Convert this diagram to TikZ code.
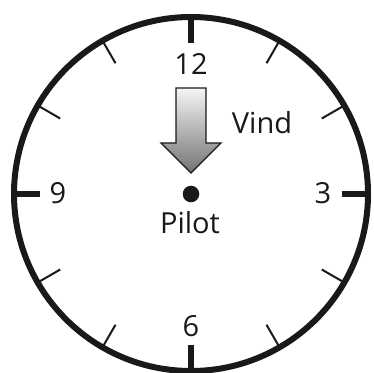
\documentclass[tikz,border=0pt]{standalone}
\usepackage{fontspec}
\setmainfont{Open Sans}
\usetikzlibrary{calc}
\begin{document}
\begin{tikzpicture}[x=1pt,y=-1pt,
  rim/.style={line width=6pt,draw=black!90},
  major/.style={line width=6.5pt,draw=black!90},
  minor/.style={line width=2pt,draw=black!90},
  num/.style={font=\fontsize{29}{29}\selectfont,anchor=base,inner sep=0pt,text=black!90},
  windarrow/.style={draw=black!90,line width=1.4pt,top color=black!4,bottom color=black!55,line join=miter}]
\useasboundingbox (0,0) rectangle (374,372);
\clip (0,0) rectangle (374,372);
\coordinate (c) at (191,194);
\draw[rim] (c) circle[radius=177];
\foreach \a in {0,90,180,270}
  \draw[major] ($(c)+(\a:151)$) -- ($(c)+(\a:178)$);
\foreach \a in {30,60,120,150,210,240,300,330}
  \draw[minor] ($(c)+(\a:151)$) -- ($(c)+(\a:178)$);
\node[num] (n12) at (191,74) {12};
\node[num] (n9) at (58,203) {9};
\node[num] (n3) at (323,203) {3};
\node[num] (n6) at (191,336) {6};
\node[num] (vind) at (262,133) {Vind};
\node[num] (pilot) at (190,233) {Pilot};
\fill[black!90] (c) circle[radius=8.3];
\draw[windarrow] (176,88) -- (206,88) -- (206,143) -- (221,143) -- (191,173) -- (161,143) -- (176,143) -- cycle;
\end{tikzpicture}
\end{document}
